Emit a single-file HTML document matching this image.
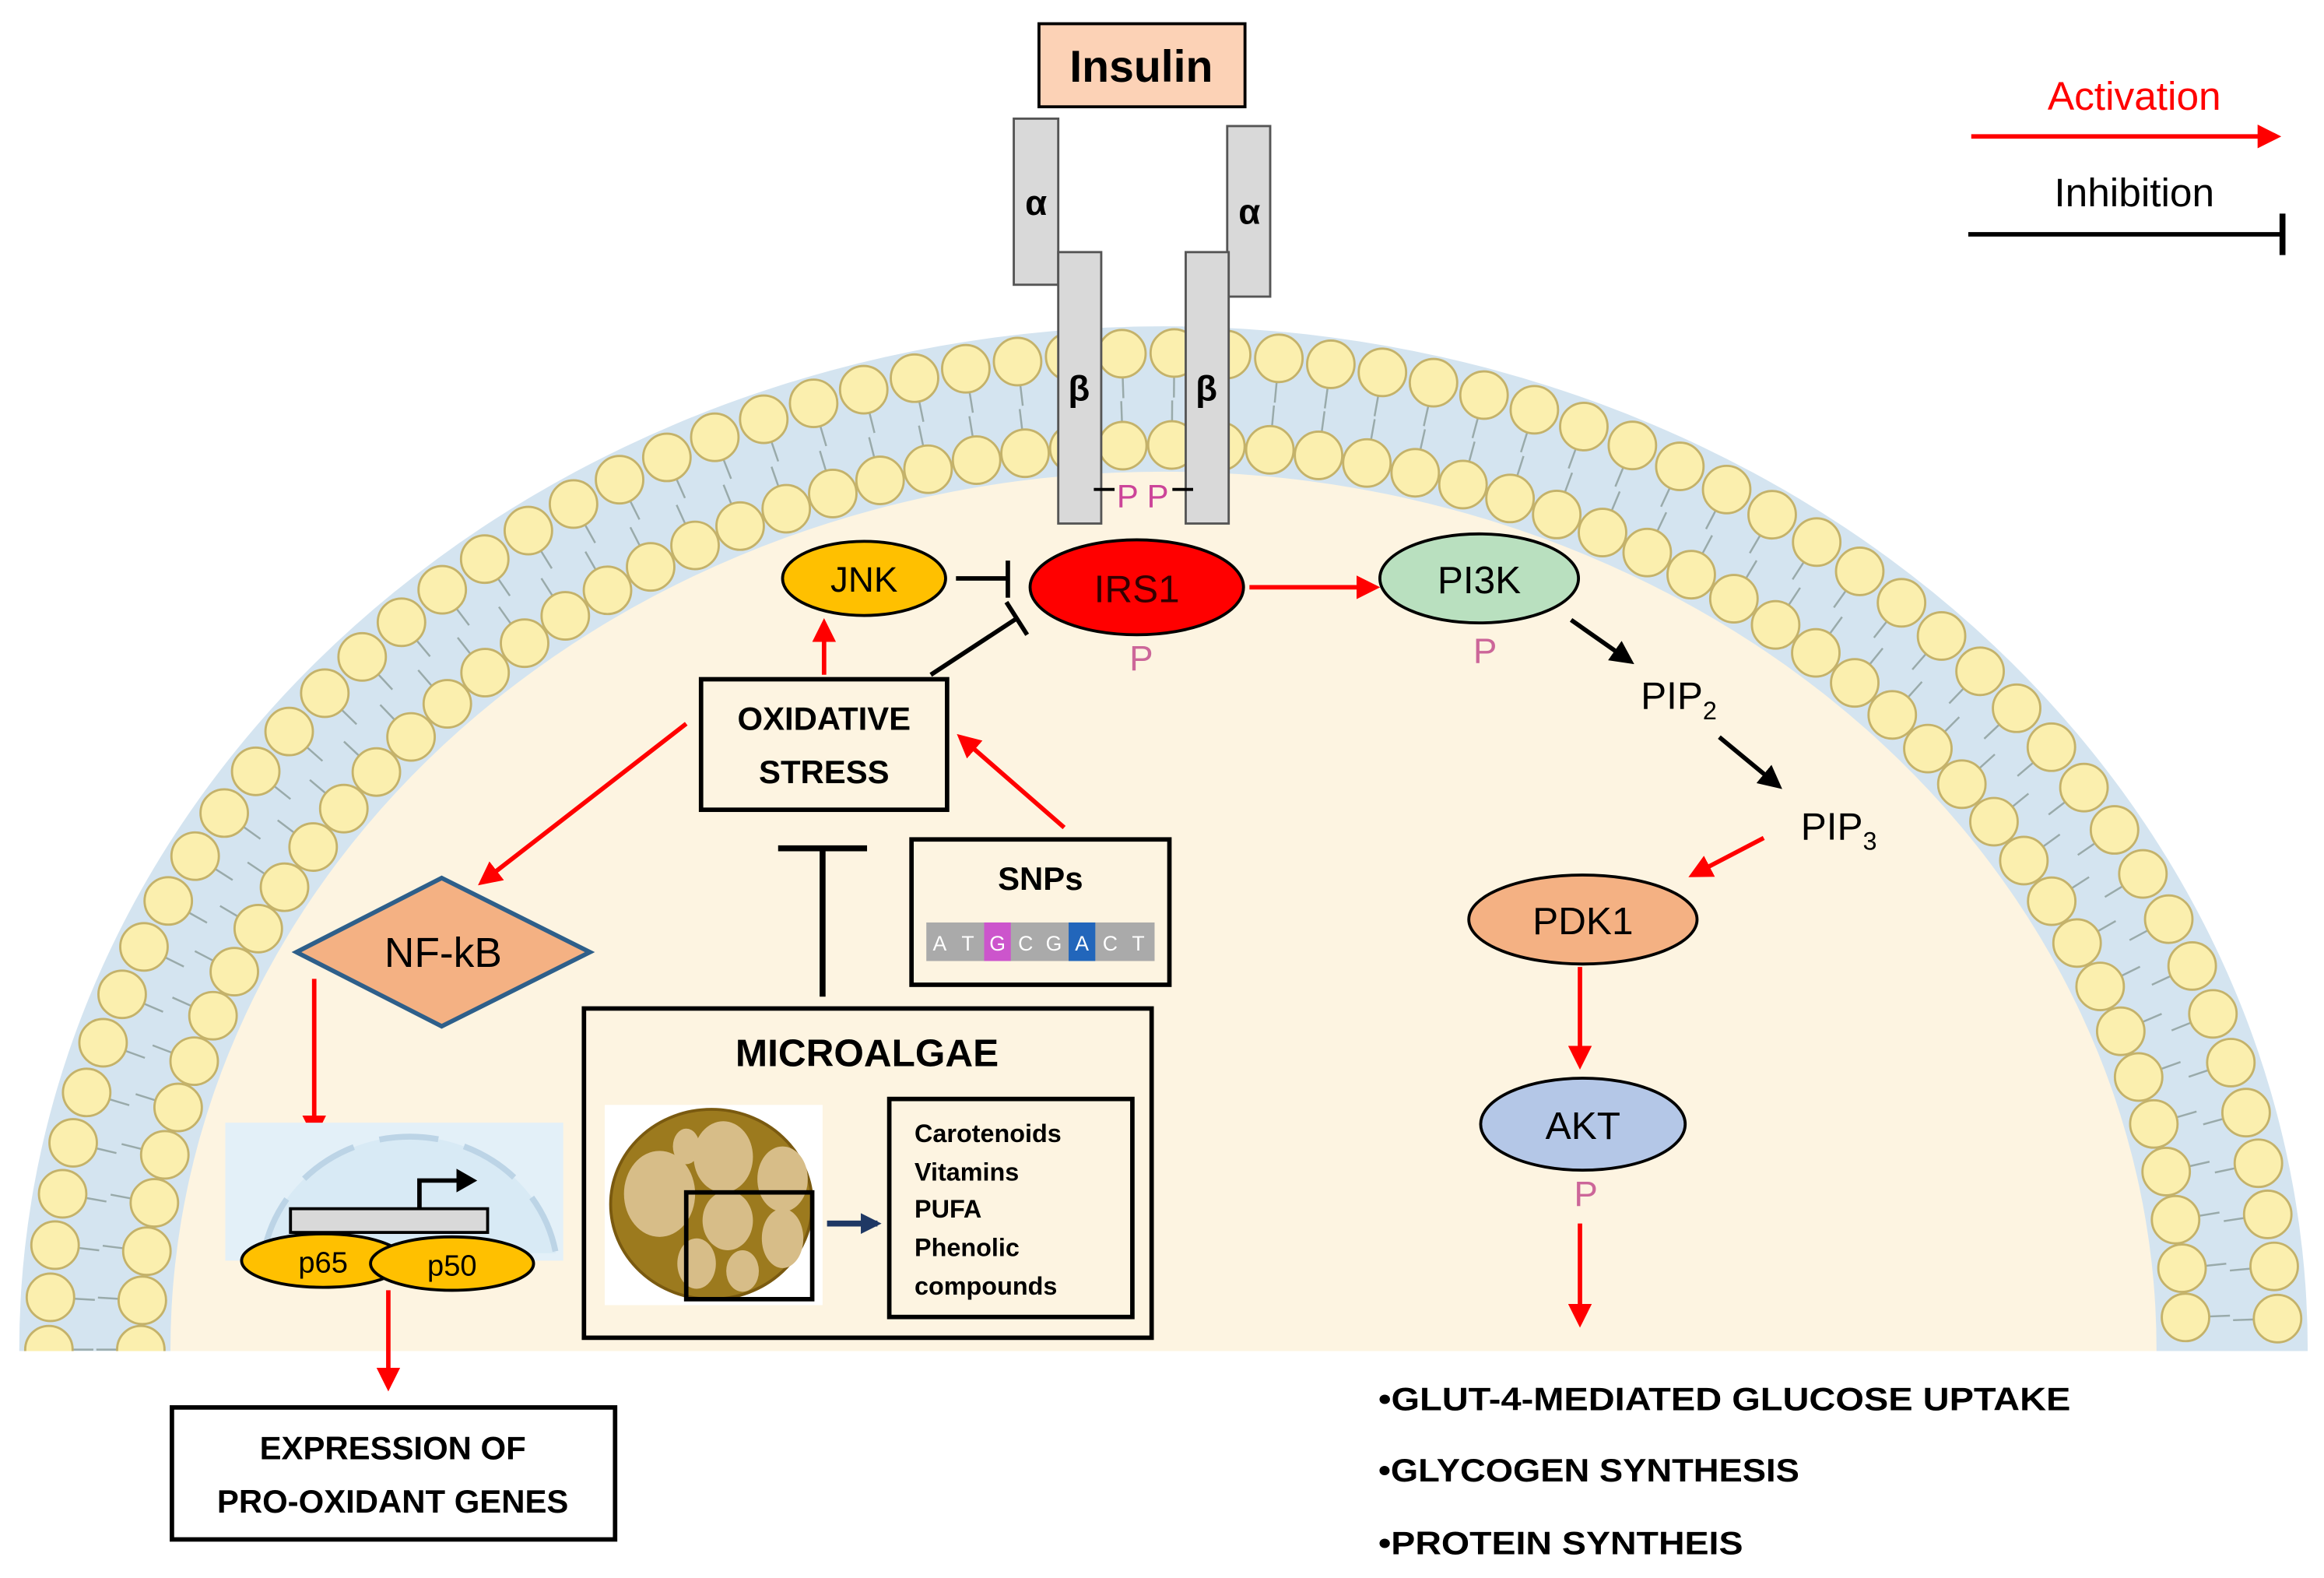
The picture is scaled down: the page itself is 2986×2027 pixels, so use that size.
<!DOCTYPE html>
<html><head><meta charset="utf-8"><style>
html,body{margin:0;padding:0;background:#fff;width:2986px;height:2027px;overflow:hidden;}
svg{display:block;}
text{font-family:"Liberation Sans",sans-serif;}
</style></head><body>
<svg id="s" width="2986" height="2027" viewBox="0 0 1568 1064" preserveAspectRatio="none" xmlns="http://www.w3.org/2000/svg">
<defs>
<marker id="ar2" viewBox="0 0 10 10" markerWidth="16" markerHeight="16" refX="8" refY="5" orient="auto" markerUnits="userSpaceOnUse"><path d="M0,0 L10,5 L0,10z" fill="#ff0000"/></marker>
<marker id="ab" viewBox="0 0 10 10" markerWidth="16" markerHeight="16" refX="8" refY="5" orient="auto" markerUnits="userSpaceOnUse"><path d="M0,0 L10,5 L0,10z" fill="#000"/></marker>
<marker id="an" viewBox="0 0 10 10" markerWidth="14" markerHeight="14" refX="8" refY="5" orient="auto" markerUnits="userSpaceOnUse"><path d="M0,0 L10,5 L0,10z" fill="#1f3864"/></marker>
<clipPath id="cl"><rect x="0" y="0" width="1568" height="911"/></clipPath>
</defs>
<g clip-path="url(#cl)">
<ellipse cx="785" cy="910" rx="772" ry="690" fill="#d4e4f0"/>
<ellipse cx="785" cy="910" rx="670" ry="592" fill="#fdf4e1"/>
<g id="mem"></g>
</g>
<rect x="684" y="80" width="30" height="112" fill="#d9d9d9" stroke="#555" stroke-width="1.5"/>
<rect x="828" y="85" width="29" height="115" fill="#d9d9d9" stroke="#555" stroke-width="1.5"/>
<rect x="714" y="170" width="29" height="183" fill="#d9d9d9" stroke="#555" stroke-width="1.5"/>
<rect x="800" y="170" width="29" height="183" fill="#d9d9d9" stroke="#555" stroke-width="1.5"/>
<text x="699" y="145" font-size="24" font-weight="bold" text-anchor="middle">α</text>
<text x="843" y="151" font-size="24" font-weight="bold" text-anchor="middle">α</text>
<text x="728" y="270" font-size="24" font-weight="bold" text-anchor="middle">β</text>
<text x="814" y="270" font-size="24" font-weight="bold" text-anchor="middle">β</text>
<line x1="738" y1="330" x2="752" y2="330" stroke="#000" stroke-width="2"/>
<line x1="791" y1="330" x2="805" y2="330" stroke="#000" stroke-width="2"/>
<text x="771" y="342" font-size="22" fill="#cc4499" text-anchor="middle">P P</text>
<rect x="701" y="16" width="139" height="56" fill="#fcd2b6" stroke="#000" stroke-width="2"/>
<text x="770" y="55" font-size="30" font-weight="bold" text-anchor="middle">Insulin</text>
<text x="1440" y="74" font-size="27" fill="#ff0000" text-anchor="middle">Activation</text>
<line x1="1330" y1="92" x2="1536" y2="92" stroke="#ff0000" stroke-width="3" marker-end="url(#ar2)"/>
<text x="1440" y="139" font-size="27" text-anchor="middle">Inhibition</text>
<line x1="1328" y1="158" x2="1540" y2="158" stroke="#000" stroke-width="3"/>
<line x1="1540" y1="144" x2="1540" y2="172" stroke="#000" stroke-width="4"/>
<ellipse cx="583" cy="390" rx="55" ry="25" fill="#ffc000" stroke="#000" stroke-width="2"/>
<text x="583" y="399" font-size="24" text-anchor="middle">JNK</text>
<ellipse cx="767" cy="396" rx="72" ry="32" fill="#ff0000" stroke="#000" stroke-width="2"/>
<text x="767" y="406" font-size="26" text-anchor="middle" fill="#300">IRS1</text>
<text x="770" y="452" font-size="24" fill="#cc6699" text-anchor="middle">P</text>
<ellipse cx="998" cy="390" rx="67" ry="30" fill="#b9e0bf" stroke="#000" stroke-width="2"/>
<text x="998" y="400" font-size="26" text-anchor="middle">PI3K</text>
<text x="1002" y="447" font-size="24" fill="#cc6699" text-anchor="middle">P</text>
<text x="1107" y="478" font-size="26">PIP<tspan font-size="17" dy="7">2</tspan></text>
<text x="1215" y="566" font-size="26">PIP<tspan font-size="17" dy="7">3</tspan></text>
<ellipse cx="1068" cy="620" rx="77" ry="30" fill="#f4b183" stroke="#000" stroke-width="2"/>
<text x="1068" y="630" font-size="26" text-anchor="middle">PDK1</text>
<ellipse cx="1068" cy="758" rx="69" ry="31" fill="#b4c7e7" stroke="#000" stroke-width="2"/>
<text x="1068" y="768" font-size="26" text-anchor="middle">AKT</text>
<text x="1070" y="813" font-size="24" fill="#cc6699" text-anchor="middle">P</text>
<line x1="843" y1="396" x2="928" y2="396" stroke="#f00" stroke-width="3" marker-end="url(#ar2)"/>
<line x1="1060" y1="418" x2="1100" y2="446" stroke="#000" stroke-width="3" marker-end="url(#ab)"/>
<line x1="1160" y1="497" x2="1200" y2="530" stroke="#000" stroke-width="3" marker-end="url(#ab)"/>
<line x1="1190" y1="565" x2="1142" y2="590" stroke="#f00" stroke-width="3" marker-end="url(#ar2)"/>
<line x1="1066" y1="652" x2="1066" y2="718" stroke="#f00" stroke-width="3" marker-end="url(#ar2)"/>
<line x1="1066" y1="825" x2="1066" y2="892" stroke="#f00" stroke-width="3" marker-end="url(#ar2)"/>
<line x1="645" y1="390" x2="680" y2="390" stroke="#000" stroke-width="3"/>
<line x1="680" y1="378" x2="680" y2="403" stroke="#000" stroke-width="3"/>
<line x1="628" y1="455" x2="686" y2="417" stroke="#000" stroke-width="3"/>
<line x1="679" y1="406" x2="693" y2="428" stroke="#000" stroke-width="3"/>
<line x1="556" y1="455" x2="556" y2="420" stroke="#f00" stroke-width="3" marker-end="url(#ar2)"/>
<line x1="718" y1="558" x2="648" y2="497" stroke="#f00" stroke-width="3" marker-end="url(#ar2)"/>
<line x1="555" y1="672" x2="555" y2="572" stroke="#000" stroke-width="4"/>
<line x1="525" y1="572" x2="585" y2="572" stroke="#000" stroke-width="4"/>
<line x1="463" y1="488" x2="325" y2="595" stroke="#f00" stroke-width="3" marker-end="url(#ar2)"/>
<line x1="212" y1="660" x2="212" y2="765" stroke="#f00" stroke-width="3" marker-end="url(#ar2)"/>
<line x1="262" y1="870" x2="262" y2="935" stroke="#f00" stroke-width="3" marker-end="url(#ar2)"/>
<rect x="473" y="458" width="166" height="88" fill="#fdf4e1" stroke="#000" stroke-width="3"/>
<text x="556" y="492" font-size="22" font-weight="bold" text-anchor="middle">OXIDATIVE</text>
<text x="556" y="528" font-size="22" font-weight="bold" text-anchor="middle">STRESS</text>
<rect x="615" y="566" width="174" height="98" fill="#fdf4e1" stroke="#000" stroke-width="3"/>
<text x="702" y="600" font-size="22" font-weight="bold" text-anchor="middle">SNPs</text>
<g font-size="14" fill="#fff" text-anchor="middle">
<rect x="625" y="622" width="154" height="26" fill="#aaa"/>
<rect x="664" y="622" width="18" height="26" fill="#cc55cc"/>
<rect x="721" y="622" width="18" height="26" fill="#2266bb"/>
<text x="634" y="641">A</text><text x="653" y="641">T</text><text x="673" y="641">G</text><text x="692" y="641">C</text><text x="711" y="641">G</text><text x="730" y="641">A</text><text x="749" y="641">C</text><text x="768" y="641">T</text>
</g>
<polygon points="200,642 298,592 398,642 298,692" fill="#f4b183" stroke="#2e5f8a" stroke-width="3"/>
<text x="299" y="652" font-size="28" text-anchor="middle">NF-kB</text>
<rect x="152" y="757" width="228" height="93" fill="#e3f0f8"/>
<path d="M178,845 A100,95 0 0 1 375,845" fill="#d8eaf5" stroke="#bcd4e6" stroke-width="4" stroke-dasharray="40,18"/>
<rect x="196" y="815" width="133" height="16" fill="#d9d9d9" stroke="#000" stroke-width="2"/>
<path d="M283,815 V796 H310" fill="none" stroke="#000" stroke-width="3"/>
<path d="M308,788 L322,796 L308,804z" fill="#000"/>
<ellipse cx="218" cy="850" rx="55" ry="18" fill="#ffc000" stroke="#000" stroke-width="2"/>
<ellipse cx="305" cy="852" rx="55" ry="18" fill="#ffc000" stroke="#000" stroke-width="2"/>
<text x="218" y="858" font-size="20" text-anchor="middle">p65</text>
<text x="305" y="860" font-size="20" text-anchor="middle">p50</text>
<rect x="116" y="949" width="299" height="89" fill="#fff" stroke="#000" stroke-width="3"/>
<text x="265" y="984" font-size="22" font-weight="bold" text-anchor="middle">EXPRESSION OF</text>
<text x="265" y="1020" font-size="22" font-weight="bold" text-anchor="middle">PRO-OXIDANT GENES</text>
<rect x="394" y="680" width="383" height="222" fill="#fdf4e1" stroke="#000" stroke-width="3"/>
<text x="585" y="719" font-size="26" font-weight="bold" text-anchor="middle">MICROALGAE</text>
<rect x="408" y="745" width="147" height="135" fill="#fff"/>
<ellipse cx="480" cy="812" rx="68" ry="64" fill="#9c7a1e" stroke="#7a5a10" stroke-width="2"/>
<g fill="#d7bd88"><ellipse cx="445" cy="805" rx="24" ry="29"/><ellipse cx="488" cy="780" rx="20" ry="24"/><ellipse cx="528" cy="795" rx="17" ry="22"/><ellipse cx="463" cy="773" rx="9" ry="12"/><ellipse cx="491" cy="823" rx="17" ry="20"/><ellipse cx="528" cy="835" rx="14" ry="20"/><ellipse cx="470" cy="852" rx="13" ry="17"/><ellipse cx="501" cy="857" rx="11" ry="14"/></g>
<rect x="463" y="804" width="85" height="72" fill="none" stroke="#000" stroke-width="3"/>
<line x1="558" y1="825" x2="592" y2="825" stroke="#1f3864" stroke-width="4" marker-end="url(#an)"/>
<rect x="600" y="741" width="164" height="147" fill="#fdf4e1" stroke="#000" stroke-width="3"/>
<g font-size="17" font-weight="bold"><text x="617" y="770">Carotenoids</text><text x="617" y="796">Vitamins</text><text x="617" y="821">PUFA</text><text x="617" y="847">Phenolic</text><text x="617" y="873">compounds</text></g>
<g font-size="22" font-weight="bold"><text x="930" y="951" textLength="467" lengthAdjust="spacingAndGlyphs">•GLUT-4-MEDIATED GLUCOSE UPTAKE</text><text x="930" y="999" textLength="284" lengthAdjust="spacingAndGlyphs">•GLYCOGEN SYNTHESIS</text><text x="930" y="1048" textLength="246" lengthAdjust="spacingAndGlyphs">•PROTEIN SYNTHEIS</text></g>
</svg>
<script>
(function(){
var g=document.getElementById('mem'),out='';
function row(rx,ry,step,inward){
 var pts=[],prev=null,acc=step;
 for(var a=Math.PI;a>=0;a-=0.0005){
  var x=785+rx*Math.cos(a),y=910-ry*Math.sin(a);
  if(prev){acc+=Math.hypot(x-prev[0],y-prev[1]);}
  prev=[x,y];
  if(acc>=step){acc=0;pts.push([x,y,a]);}
 }
 pts.forEach(function(p){
  var nx=Math.cos(p[2])/rx*ry,ny=-Math.sin(p[2]);var l=Math.hypot(nx,ny);nx/=l;ny/=l;
  var d=inward?1:-1;
  var x1=p[0]+d*nx*14,y1=p[1]+d*ny*14,x2=p[0]+d*nx*30,y2=p[1]+d*ny*30;
  out+='<line x1="'+x1+'" y1="'+y1+'" x2="'+x2+'" y2="'+y2+'" stroke="#9aa" stroke-width="1.3"/>';
 });
 pts.forEach(function(p){
  out+='<circle cx="'+p[0]+'" cy="'+p[1]+'" r="16" fill="#fbefae" stroke="#c4b26a" stroke-width="1.5"/>';
 });
}
row(752,672,35,false);
row(690,610,33,true);
g.innerHTML=out;
})();
</script>
</body></html>
